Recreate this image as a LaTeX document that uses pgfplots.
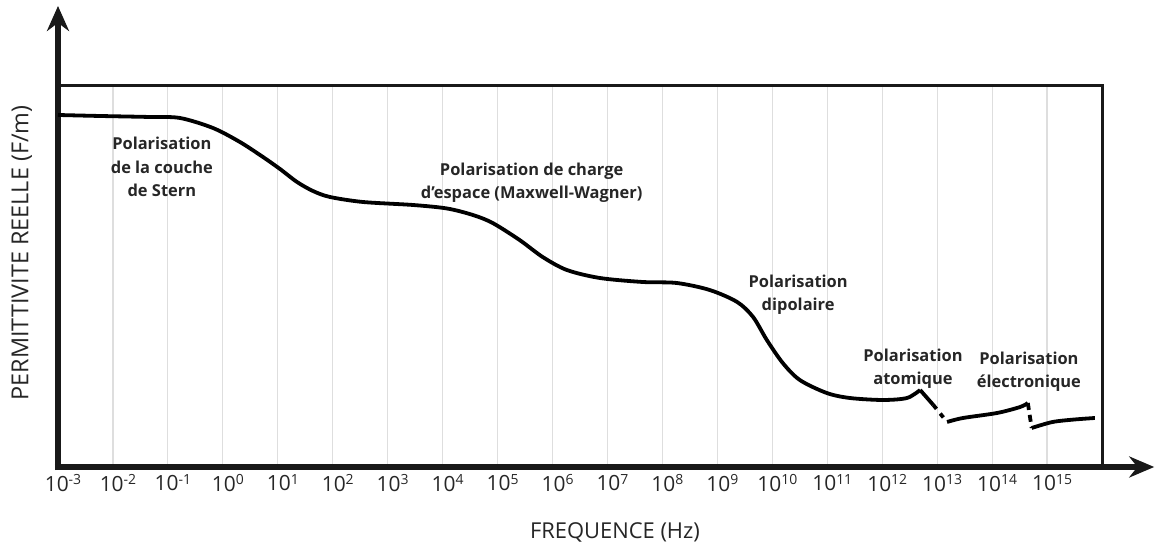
\documentclass[border=0pt]{standalone}
\usepackage{fontspec}
\setmainfont{Open Sans}
\usepackage{pgfplots}
\pgfplotsset{compat=1.18}
\usetikzlibrary{arrows.meta}
\newcommand\tl[1]{10\raisebox{6.5bp}{\fontsize{14}{14}\selectfont #1}}
\begin{document}
\begin{tikzpicture}[x=1bp,y=1bp]
\useasboundingbox (0,0) rectangle (1155,544);
\begin{axis}[
  at={(58bp,77bp)}, anchor=south west,
  scale only axis, width=1044bp, height=381bp,
  xmin=-3, xmax=16, ymin=0, ymax=381,
  xtick={-3,-2,...,15},
  xticklabels={\tl{-3},\tl{-2},\tl{-1},\tl{0},\tl{1},\tl{2},\tl{3},\tl{4},\tl{5},\tl{6},\tl{7},\tl{8},\tl{9},\tl{10},\tl{11},\tl{12},\tl{13},\tl{14},\tl{15}},
  ytick=\empty,
  major tick length=0pt,
  xmajorgrids, grid style={black!13, line width=1.2bp},
  axis line style={line width=3bp, black!90},
  xticklabel style={font=\fontsize{21}{21}\selectfont, xshift=5bp, yshift=-4bp, text=black!85},
  clip=false,
]
\draw[line width=6bp, black!90, -{Stealth[length=25bp,width=22bp]}] (rel axis cs:0,-0.008) -- (rel axis cs:0,1.21);
\draw[line width=5.5bp, black!90, -{Stealth[length=25bp,width=21bp]}] (rel axis cs:-0.003,0) -- (rel axis cs:1.05,0);
\node[font=\fontsize{22}{22}\selectfont, text=black!85] at (rel axis cs:0.5335,-0.1706) {FREQUENCE (Hz)};
\node[font=\fontsize{23.5}{23.5}\selectfont, text=black!85, rotate=90] at (rel axis cs:-0.0345,0.5617) {PERMITTIVITE REELLE (F/m)};

\addplot[black, line width=3.8bp, smooth, tension=0.5] coordinates {
(-3,352) (-2.24,351) (-1.33,350) (-0.78,349) (-0.18,339) (0.31,325) (0.73,310) (1.04,298) (1.35,285) (1.64,276) (1.95,270) (2.55,265) (3.46,262) (4.08,258.5) (4.55,252) (4.91,244) (5.40,227) (5.82,210) (6.26,197) (6.86,189) (7.64,185) (8.26,184) (8.86,177) (9.36,165) (9.65,150) (9.90,127) (10.19,104) (10.50,87) (10.99,74) (11.41,69) (12.01,67) (12.45,69) (12.69,77)
};
\addplot[black, line width=3.8bp] coordinates {(12.69,77) (12.93,62)};
\addplot[black, line width=3.8bp, dash pattern=on 5bp off 6bp] coordinates {(12.93,62) (13.18,45)};
\addplot[black, line width=3.8bp, smooth, tension=0.5] coordinates {(13.18,45) (13.47,49) (14.09,54) (14.51,60) (14.65,64)};
\addplot[black, line width=3.8bp, dash pattern=on 7bp off 5bp] coordinates {(14.65,64) (14.72,39)};
\addplot[black, line width=3.8bp, smooth, tension=0.5] coordinates {(14.72,39) (15.10,45) (15.5,47.5) (15.87,49)};

\begin{scope}[every node/.style={font=\fontsize{16.5}{23.5}\selectfont\bfseries, align=center, text=black!85}]
\node at (axis cs:-1.11,300) {Polarisation\\de la couche\\de Stern};
\node at (axis cs:5.62,284.5) {Polarisation de charge\\d'espace (Maxwell-Wagner)};
\node at (axis cs:10.47,172) {Polarisation\\dipolaire};
\node at (axis cs:12.56,98) {Polarisation\\atomique};
\node at (axis cs:14.67,95.5) {Polarisation\\électronique};
\end{scope}
\end{axis}
\end{tikzpicture}
\end{document}
